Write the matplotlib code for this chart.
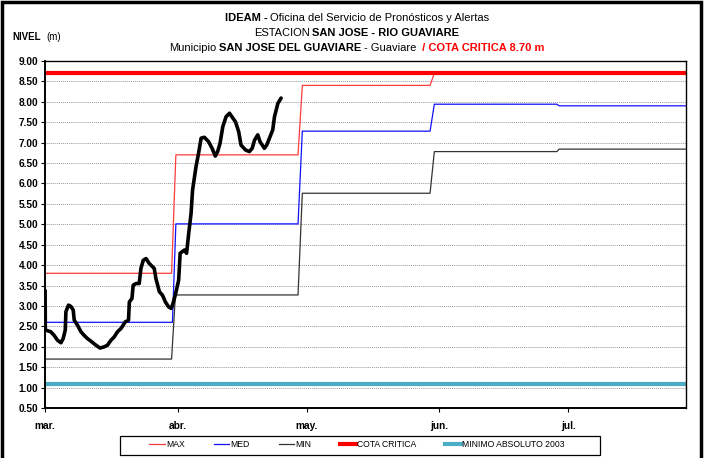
import matplotlib
matplotlib.use("Agg")
import matplotlib.pyplot as plt
from matplotlib.patches import Rectangle
import numpy as np

plt.rcParams['font.family'] = ['Liberation Sans', 'DejaVu Sans']

# days counted from 1 March
month_starts = [0, 31, 61, 92, 122]
month_labels = ["mar.", "abr.", "may.", "jun.", "jul."]

# historical reference levels (m), stepped month by month
max_days = [0, 29.5, 30.5, 59.0, 60.0, 89.8, 90.8, 149.5]
max_vals = [3.80, 3.80, 6.70, 6.70, 8.40, 8.40, 8.70, 8.70]

med_days = [0, 29.7, 30.5, 59.0, 60.0, 89.8, 90.8, 119.4, 119.9, 149.5]
med_vals = [2.60, 2.60, 5.01, 5.01, 7.28, 7.28, 7.94, 7.94, 7.90, 7.90]

min_days = [0, 29.5, 30.4, 59.0, 60.0, 89.8, 90.8, 119.4, 119.9, 149.5]
min_vals = [1.70, 1.70, 3.27, 3.27, 5.76, 5.76, 6.78, 6.78, 6.84, 6.84]

cota_critica = 8.70
minimo_absoluto = 1.08

# observed level at the station
obs_days = [0.0, 0.05, 1.3, 2.1, 2.9, 3.7, 4.2, 4.7, 4.85, 5.45, 6.0, 6.55,
            6.8, 7.55, 8.35, 9.1, 9.9, 10.9, 11.85, 12.8, 13.8, 14.55,
            15.35, 16.1, 16.9, 17.7, 18.7, 19.45, 19.65, 20.25, 20.55, 21.2,
            21.95, 22.35, 22.9, 23.55, 24.3, 25.45, 25.85, 26.65, 27.4, 28.05,
            28.8, 29.4, 29.8, 30.4, 31.15, 31.5, 32.5, 33.0, 33.5, 34.05,
            34.4, 35.2, 35.8, 36.4, 37.15, 38.15, 38.95, 39.7, 40.25, 40.8,
            41.45, 42.2, 43.0, 43.6, 44.4, 45.15, 45.7, 46.75, 47.65, 48.3,
            48.85, 49.6, 50.15, 51.15, 51.7, 52.15, 53.1, 53.5, 54.3, 55.05]
obs_vals = [3.38, 2.41, 2.37, 2.28, 2.16, 2.10, 2.20, 2.41, 2.86, 3.02, 2.99, 2.90,
            2.65, 2.53, 2.37, 2.28, 2.20, 2.12, 2.04, 1.97, 2.00, 2.04,
            2.16, 2.24, 2.37, 2.45, 2.61, 2.65, 3.10, 3.18, 3.51, 3.55,
            3.55, 3.92, 4.12, 4.16, 4.04, 3.92, 3.67, 3.35, 3.26, 3.10,
            2.98, 2.94, 3.05, 3.28, 3.63, 4.29, 4.37, 4.29, 4.78, 5.27,
            5.84, 6.41, 6.74, 7.11, 7.13, 7.02, 6.86, 6.67, 6.78, 6.98,
            7.39, 7.63, 7.72, 7.63, 7.51, 7.27, 6.94, 6.82, 6.78, 6.86,
            7.06, 7.19, 7.02, 6.86, 6.94, 7.06, 7.31, 7.63, 7.96, 8.09]

fig = plt.figure(figsize=(7.05, 4.58), dpi=100)
ax = fig.add_axes([0.064, 0.109, 0.909, 0.758])

ax.plot(max_days, max_vals, color="#ff3b3b", lw=0.9, label="MAX")
ax.plot(med_days, med_vals, color="#1010ff", lw=0.9, label="MED")
ax.plot(min_days, min_vals, color="#333333", lw=0.9, label="MIN")
ax.axhline(cota_critica, color="#ff0000", lw=3, label="COTA CRITICA")
ax.axhline(minimo_absoluto, color="#4bacc6", lw=3, label="MINIMO ABSOLUTO 2003")
ax.plot(obs_days, obs_vals, color="black", lw=2.6, solid_joinstyle="round",
        solid_capstyle="round")

ax.set_xlim(0, 149.5)
ax.set_ylim(0.5, 9.0)
ax.set_yticks(np.arange(0.5, 9.01, 0.5))
ax.set_yticklabels([f"{v:.2f}" for v in np.arange(0.5, 9.01, 0.5)],
                   fontsize=7.3, fontweight="bold")
ax.set_xticks(month_starts)
ax.set_xticklabels(month_labels, fontsize=7.3, fontweight="bold")
ax.tick_params(axis="y", length=3, width=0.8, pad=2)
ax.tick_params(axis="x", length=3, width=0.8, pad=6)
ax.grid(axis="y", color="#999999", lw=0.7, ls=(0, (1, 1)))
ax.set_axisbelow(True)
for side in ["left", "bottom"]:
    ax.spines[side].set_linewidth(1.4)
for side in ["top", "right"]:
    ax.spines[side].set_linewidth(1.0)

# legend along the bottom, inside its own box
fig.legend(loc="center", bbox_to_anchor=(0.506, 0.0285), ncol=5, fontsize=6.2,
           frameon=False, handlelength=1.8, handletextpad=0.1,
           columnspacing=3.4, borderpad=0.3)
fig.patches.append(Rectangle((0.170, 0.0066), 0.681, 0.0415,
                             transform=fig.transFigure, fill=False,
                             edgecolor="black", lw=0.9))

# outer frame
fig.patches.append(Rectangle((0.003, -0.05), 0.991, 1.046, transform=fig.transFigure,
                             fill=False, edgecolor="black", lw=2.5))


def rich_line(y, parts, size, cx=0.506, gap=2.5):
    texts = []
    for s, w, c in parts:
        texts.append(fig.text(0, y, s, fontsize=size, fontweight=w, color=c,
                              va="center", ha="left"))
    fig.canvas.draw()
    r = fig.canvas.get_renderer()
    widths = [t.get_window_extent(r).width for t in texts]
    W = fig.bbox.width
    total = sum(widths) + gap * (len(texts) - 1)
    x = cx * W - total / 2
    for t, w in zip(texts, widths):
        t.set_x(x / W)
        x += w + gap


rich_line(0.961, [("IDEAM -", "bold", "black"),
                  ("Oficina del Servicio de Pronósticos y Alertas", "normal", "black")], 8)
rich_line(0.928, [("ESTACION", "normal", "black"),
                  ("SAN JOSE - RIO GUAVIARE", "bold", "black")], 8)
rich_line(0.895, [("Municipio", "normal", "black"),
                  ("SAN JOSE DEL GUAVIARE", "bold", "black"),
                  ("- Guaviare", "normal", "black"),
                  (" / COTA CRITICA 8.70 m", "bold", "#ff0000")], 8)

fig.text(0.017, 0.919, "NIVEL", fontsize=7, fontweight="bold", va="center")
fig.text(0.066, 0.919, "(m)", fontsize=7, va="center")

fig.savefig("out.png", dpi=100)
